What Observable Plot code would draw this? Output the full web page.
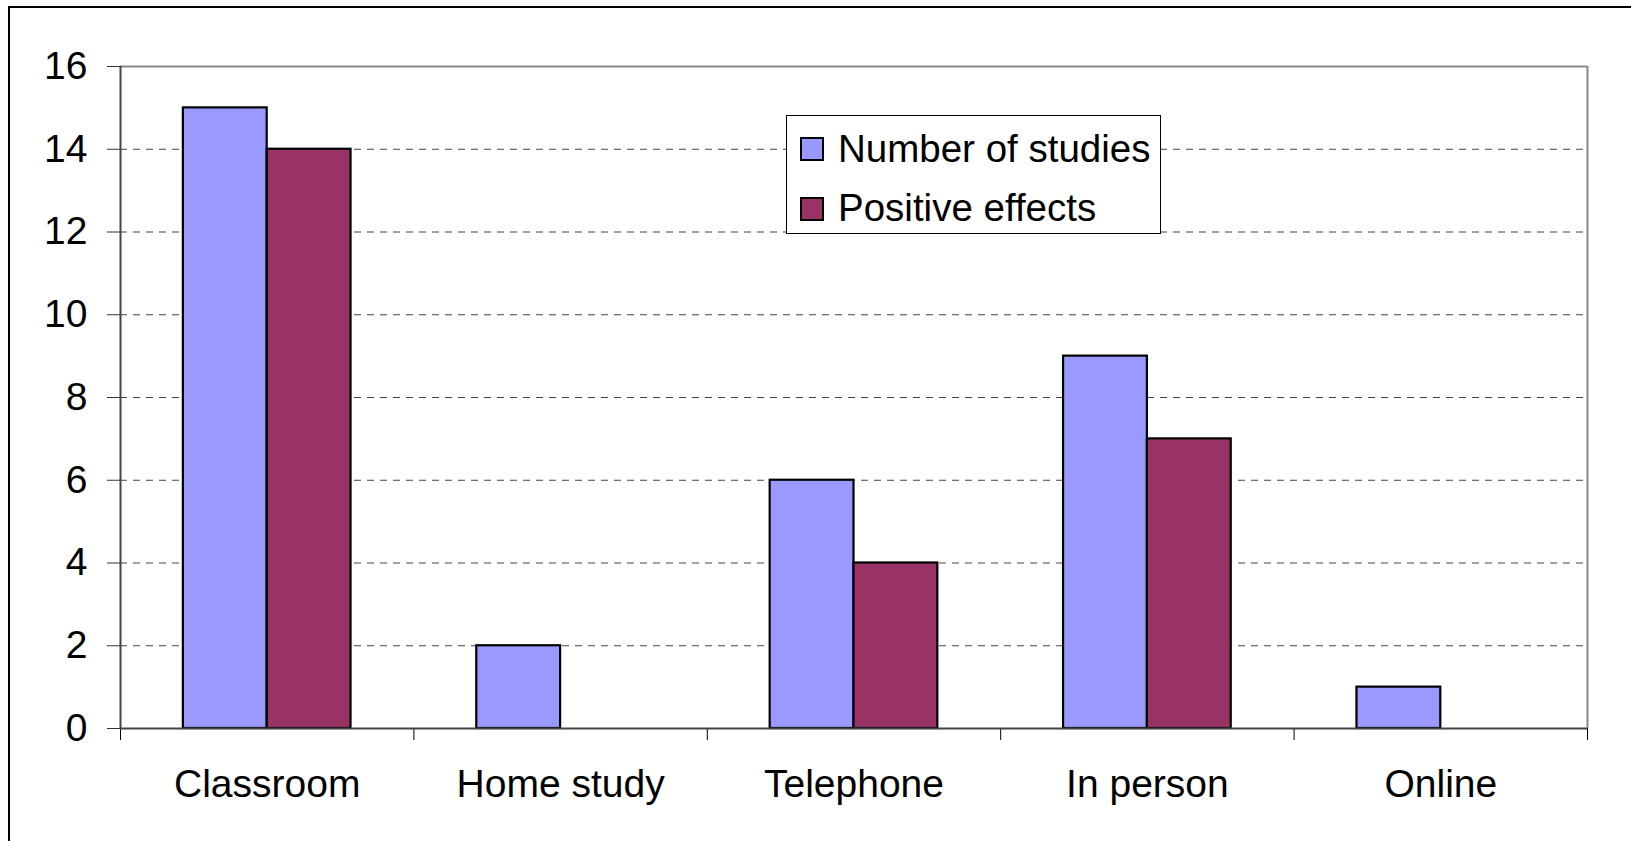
<!DOCTYPE html>
<html>
<head>
<meta charset="utf-8">
<script src="https://cdn.jsdelivr.net/npm/d3@7"></script>
<script src="https://cdn.jsdelivr.net/npm/@observablehq/plot@0.6"></script>
<style>
  html, body { margin: 0; padding: 0; background: #fff; overflow: hidden; }
  #wrap { position: relative; width: 1631px; height: 841px; font-family: "Liberation Sans", Arial, sans-serif; }
  #frame { position: absolute; left: 8px; top: 6px; right: -10px; bottom: -10px; border-left: 2px solid #000; border-top: 2px solid #000; pointer-events: none; }
  #chart { position: absolute; left: 0; top: 0; }
  #legend { position: absolute; left: 786px; top: 115px; width: 375px; height: 119px; box-sizing: border-box; border: 1px solid #000; background: #fff; font-size: 38.5px; color: #000; }
  .sw { position: absolute; width: 24px; height: 24px; box-sizing: border-box; border: 2px solid #000; left: 13px; }
  .lt { position: absolute; left: 51px; line-height: 38px; white-space: nowrap; }
</style>
</head>
<body>
<div id="wrap">
  <div id="frame"></div>
  <div id="chart"></div>
  <div id="legend"></div>
</div>
<script>
// ---- Data ----
const categories = ["Classroom", "Home study", "Telephone", "In person", "Online"];
const seriesNames = ["Number of studies", "Positive effects"];
const numberOfStudies = [15, 2, 6, 9, 1];
const positiveEffects = [14, 0, 4, 7, 0];
const yTicks = [0, 2, 4, 6, 8, 10, 12, 14, 16];
const seriesColors = ["#9999ff", "#993366"];

// ---- Table built from arrays ----
const seriesValues = [numberOfStudies, positiveEffects];
const rows = [];
categories.forEach((c, i) => {
  seriesNames.forEach((s, j) => {
    rows.push({ category: c, series: s, value: seriesValues[j][i], i, j });
  });
});

// Excel-style grouped columns: gap width 150% => each bar is 1/3.5 of a category slot
const barW = 1 / 3.5;
const groupStart = d => d.i + 0.5 - barW;

const chart = Plot.plot({
  width: 1631,
  height: 841,
  marginLeft: 120,
  marginRight: 44,
  marginTop: 66,
  marginBottom: 113,
  style: { fontFamily: "'Liberation Sans', Arial, sans-serif", fontSize: "39px", color: "#000", background: "transparent" },
  x: { domain: [0, categories.length], axis: null },
  y: { domain: [0, 16], axis: null },
  color: { domain: seriesNames, range: seriesColors },
  marks: [
    Plot.ruleY(yTicks.filter(t => t > 0 && t < 16), { stroke: "#444", strokeWidth: 1, strokeDasharray: "7,6" }),
    Plot.ruleY([16], { stroke: "#888", strokeWidth: 2 }),
    Plot.ruleX([categories.length], { stroke: "#888", strokeWidth: 2 }),
    Plot.axisY({ ticks: yTicks, label: null, tickSize: 13, tickPadding: 20, stroke: "#333", fill: "#000", fontSize: 39 }),
    Plot.axisX({ ticks: d3.range(categories.length + 1), label: null, tickSize: 12, tickFormat: () => "", stroke: "#000" }),
    Plot.axisX({ ticks: categories.map((c, i) => i + 0.5), label: null, tickSize: 0, tickPadding: 41, fontSize: 39, fill: "#000",
                 tickFormat: t => categories[Math.floor(t)] }),
    Plot.rect(rows.filter(d => d.value > 0), {
      x1: d => groupStart(d) + d.j * barW,
      x2: d => groupStart(d) + (d.j + 1) * barW,
      y1: () => 0,
      y2: "value",
      fill: "series",
      stroke: "#000",
      strokeWidth: 2.2
    }),
    Plot.ruleY([0], { stroke: "#444", strokeWidth: 2 }),
    Plot.ruleX([0], { stroke: "#444", strokeWidth: 2 })
  ]
});
document.getElementById("chart").appendChild(chart);

// ---- Legend ----
const legend = document.getElementById("legend");
const swTops = [21, 81];
const txtTops = [13.5, 72.5];
seriesNames.forEach((s, j) => {
  const sw = document.createElement("div");
  sw.className = "sw";
  sw.style.top = swTops[j] + "px";
  sw.style.background = seriesColors[j];
  legend.appendChild(sw);
  const t = document.createElement("div");
  t.className = "lt";
  t.style.top = txtTops[j] + "px";
  t.textContent = s;
  legend.appendChild(t);
});
</script>
</body>
</html>
